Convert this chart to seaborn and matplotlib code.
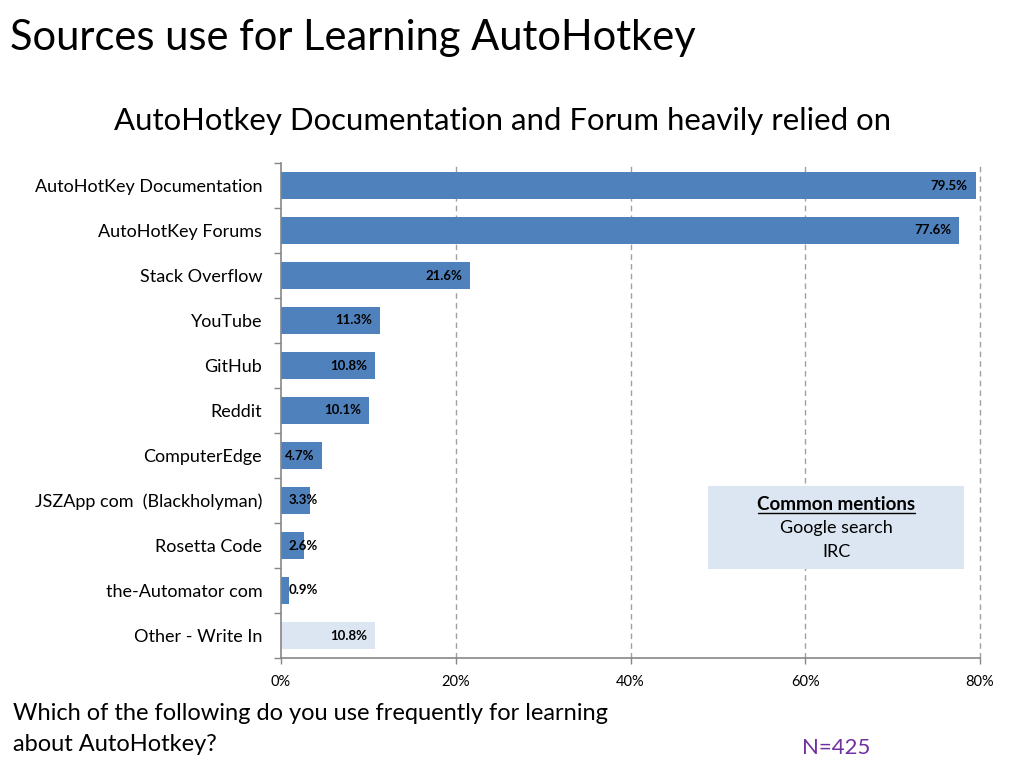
import matplotlib
matplotlib.use("Agg")
import matplotlib.pyplot as plt
import pandas as pd
import seaborn as sns
from matplotlib.patches import Rectangle
from matplotlib.ticker import FixedLocator

# --- Data ---
sources = [
    "AutoHotKey Documentation",
    "AutoHotKey Forums",
    "Stack Overflow",
    "YouTube",
    "GitHub",
    "Reddit",
    "ComputerEdge",
    "JSZApp com  (Blackholyman)",
    "Rosetta Code",
    "the-Automator com",
    "Other - Write In",
]
share = [79.5, 77.6, 21.6, 11.3, 10.8, 10.1, 4.7, 3.3, 2.6, 0.9, 10.8]
x_ticks = [0, 20, 40, 60, 80]
mentions = ["Google search", "IRC"]

BLUE = "#4F81BD"
LIGHT = "#DCE6F2"
GREY = "#868686"

sns.set_theme(style="white")
plt.rcParams["font.family"] = ["Lato", "DejaVu Sans"]
plt.rcParams["text.color"] = "black"
plt.rcParams["xtick.color"] = "black"
plt.rcParams["ytick.color"] = "black"

df = pd.DataFrame({"source": sources, "share": share})
pal = {s: (LIGHT if s.startswith("Other") else BLUE) for s in sources}

fig = plt.figure(figsize=(10.24, 7.68), dpi=100)
ax = fig.add_axes([281 / 1024, 1 - 658 / 768, 699 / 1024, 495 / 768])

sns.barplot(data=df, y="source", x="share", hue="source", palette=pal,
            legend=False, orient="h", width=0.62, saturation=1,
            edgecolor="none", ax=ax)

ax.set_xlim(0, 80)
ax.set_ylim(len(sources) - 0.5, -0.5)
ax.set_xlabel("")
ax.set_ylabel("")

# value labels
for i, v in enumerate(share):
    txt = f"{v:.1f}%"
    if v < 4.6:
        ax.text(0.9, i, txt, ha="left", va="center", fontsize=9.5,
                fontweight="bold", color="black")
    else:
        ax.text(v - 0.9, i, txt, ha="right", va="center", fontsize=9.5,
                fontweight="bold", color="black")

# axes styling
ax.set_xticks(x_ticks)
ax.set_xticklabels([f"{t}%" for t in x_ticks], fontsize=10.5)
ax.tick_params(axis="x", length=4, width=1, color=GREY, labelcolor="black",
               pad=8, direction="out", bottom=True)
ax.tick_params(axis="y", which="major", length=0, pad=13.5, labelsize=13,
               labelcolor="black")
ax.yaxis.set_minor_locator(FixedLocator([i - 0.5 for i in range(len(sources) + 1)]))
ax.tick_params(axis="y", which="minor", length=5, width=1, color=GREY, left=True)

for gx in x_ticks[1:]:
    ax.axvline(gx, color="#A0A0A0", linestyle=(0, (4, 3)), linewidth=1,
               zorder=0, clip_on=False)

for side in ["top", "right"]:
    ax.spines[side].set_visible(False)
for side in ["left", "bottom"]:
    ax.spines[side].set_color(GREY)
    ax.spines[side].set_linewidth(1.2)

# common mentions box
ax.add_patch(Rectangle((0.611, 0.18), 0.366, 0.167, transform=ax.transAxes,
                       facecolor=LIGHT, edgecolor="none", zorder=3))
ax.text(0.794, 0.311, "Common mentions", transform=ax.transAxes, ha="center",
        va="center", fontsize=13.5, fontweight="bold", zorder=4)
ax.plot([0.682, 0.907], [0.293, 0.293], transform=ax.transAxes, color="black",
        linewidth=1, zorder=4)
ax.text(0.794, 0.263, mentions[0], transform=ax.transAxes, ha="center",
        va="center", fontsize=13, zorder=4)
ax.text(0.794, 0.214, mentions[1], transform=ax.transAxes, ha="center",
        va="center", fontsize=13, zorder=4)

# titles and notes
fig.text(10 / 1024, 1 - 38 / 768, "Sources use for Learning AutoHotkey",
         ha="left", va="center", fontsize=30)
fig.text(502 / 1024, 1 - 121 / 768,
         "AutoHotkey Documentation and Forum heavily relied on",
         ha="center", va="center", fontsize=22.4)
fig.text(13 / 1024, 1 - 729 / 768,
         "Which of the following do you use frequently for learning\nabout AutoHotkey?",
         ha="left", va="center", fontsize=17, linespacing=1.53)
fig.text(836 / 1024, 1 - 748 / 768, "N=425", ha="center", va="center",
         fontsize=16, color="#7030A0")

fig.savefig("out.png", dpi=100)
